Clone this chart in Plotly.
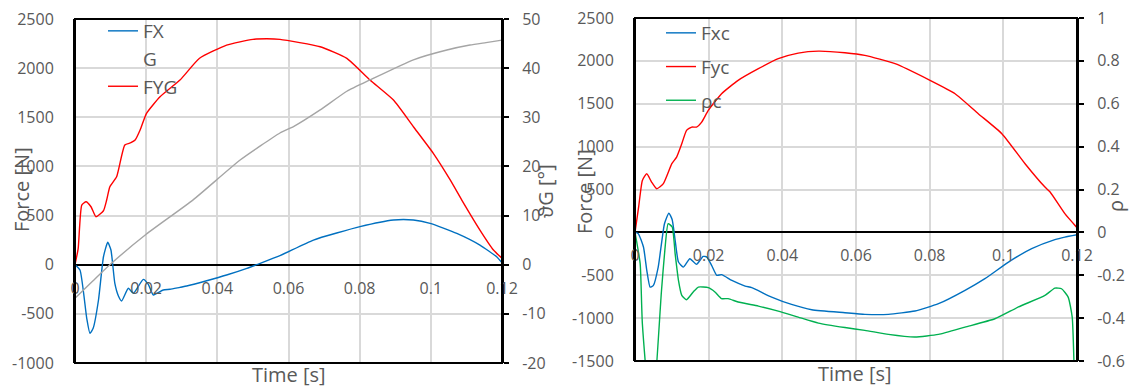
import plotly.graph_objects as go

# ---------------- data ----------------
# Left chart
t_fx = [0, 0.0014, 0.0033, 0.0042, 0.0051, 0.0066, 0.008, 0.0092, 0.0101, 0.0112, 0.0122,
        0.0131, 0.015, 0.0164, 0.0192, 0.0206, 0.022, 0.0248, 0.0267, 0.0295, 0.0314, 0.037,
        0.0426, 0.0483, 0.051, 0.0576, 0.067, 0.0801, 0.0895, 0.0951, 0.0998, 0.1073, 0.1138,
        0.1185, 0.12]
fx = [0, -54, -545, -698, -647, -359, 81, 228, 150, -190, -318,
      -369, -240, -291, -149, -200, -308, -257, -250, -230, -217, -163,
      -105, -37, 0, 92, 251, 387, 455, 455, 421, 319, 200,
      81, 20]

t_fyg = [0, 0.0009, 0.0019, 0.0031, 0.0045, 0.0059, 0.008, 0.0089, 0.0098, 0.0117, 0.014,
         0.0157, 0.0169, 0.0183, 0.0201, 0.0239, 0.0295, 0.035, 0.0426, 0.05, 0.0539, 0.0576,
         0.0689, 0.0764, 0.0829, 0.0895, 0.0951, 0.1007, 0.1054, 0.1087, 0.1138, 0.1176, 0.12]
fyg = [0, 167, 607, 641, 590, 488, 549, 658, 793, 895, 1218,
       1241, 1268, 1370, 1540, 1709, 1879, 2100, 2235, 2293, 2299, 2293,
       2218, 2100, 1879, 1675, 1404, 1133, 865, 658, 353, 150, 65]

t_g = [0, 0.005, 0.0098, 0.02, 0.0332, 0.0464, 0.0576, 0.0614, 0.0689, 0.0764, 0.0829,
       0.0951, 0.1045, 0.111, 0.1155, 0.12]
g = [-6.8, -3.3, 0, 6.2, 13.2, 21.3, 26.8, 28.1, 31.5, 35.3, 37.6,
     41.7, 43.7, 44.7, 45.2, 45.7]

# Right chart
t_fxc = [0, 0.0009, 0.0023, 0.0032, 0.0041, 0.005, 0.0063, 0.008, 0.0092, 0.0101, 0.0109,
         0.0118, 0.0131, 0.0149, 0.0167, 0.0185, 0.0195, 0.0208, 0.0222, 0.0235, 0.0263,
         0.0299, 0.0317, 0.0371, 0.0425, 0.048, 0.057, 0.0624, 0.0688, 0.076, 0.0824, 0.0896,
         0.095, 0.1014, 0.1077, 0.114, 0.1167, 0.12]
fxc = [0, -15, -171, -443, -638, -618, -405, 101, 225, 148, -93,
       -346, -405, -307, -373, -280, -288, -385, -501, -493, -560,
       -626, -645, -754, -840, -902, -937, -956, -956, -917, -832, -676,
       -540, -346, -190, -85, -55, -27]

t_fyc = [0, 0.001, 0.002, 0.0032, 0.0045, 0.0059, 0.0077, 0.01, 0.0113, 0.0127, 0.014,
         0.0154, 0.0167, 0.0181, 0.0199, 0.0235, 0.028, 0.0335, 0.0389, 0.0443, 0.0498,
         0.057, 0.0624, 0.0706, 0.0801, 0.0869, 0.0932, 0.0996, 0.1059, 0.1113, 0.1127,
         0.1167, 0.12]
fyc = [0, 300, 606, 684, 587, 509, 568, 801, 878, 1034, 1190,
       1228, 1228, 1286, 1423, 1617, 1773, 1909, 2026, 2091, 2114,
       2095, 2064, 1967, 1773, 1617, 1384, 1151, 801, 528, 470,
       218, 55]

t_rho = [0, 0.0014, 0.002, 0.0045, 0.0072, 0.0081, 0.009, 0.0101, 0.0109, 0.0118, 0.0127,
         0.014, 0.0158, 0.0172, 0.0199, 0.0217, 0.0235, 0.0253, 0.028, 0.0335, 0.0389,
         0.0443, 0.0498, 0.057, 0.0624, 0.0688, 0.076, 0.0824, 0.0896, 0.0977, 0.1041,
         0.1113, 0.114, 0.1158, 0.1176, 0.1187, 0.1192, 0.12]
rho = [0, -0.146, -0.426, -0.9, -0.27, -0.084, 0.041, 0.025, -0.1, -0.224, -0.294,
       -0.314, -0.278, -0.255, -0.258, -0.278, -0.309, -0.309, -0.325, -0.344, -0.367,
       -0.395, -0.423, -0.444, -0.457, -0.476, -0.488, -0.476, -0.442, -0.403, -0.348,
       -0.294, -0.26, -0.263, -0.302, -0.395, -0.62, -1.2]

# axis ticks
x_ticks = [0, 0.02, 0.04, 0.06, 0.08, 0.1, 0.12]
yl_ticks = [-1000, -500, 0, 500, 1000, 1500, 2000, 2500]
yl2_ticks = [-20, -10, 0, 10, 20, 30, 40, 50]
yr_ticks = [-1500, -1000, -500, 0, 500, 1000, 1500, 2000, 2500]
yr2_ticks = [-0.6, -0.4, -0.2, 0, 0.2, 0.4, 0.6, 0.8, 1]


def lab(vals):
    return [f"{v:g}" for v in vals]


BLUE = "#0070C0"
RED = "#FF0000"
GRAY = "#A5A5A5"
GREEN = "#00B050"
TXT = "#595959"
GRID = "#D9D9D9"
FONT = "Open Sans"

W, H = 1129, 387
# plot-area domains (paper fractions)
xl_dom = [75 / W, 502 / W]
yl_dom = [1 - 363 / H, 1 - 19 / H]
xr_dom = [635 / W, 1077 / W]
yr_dom = [1 - 361 / H, 1 - 18 / H]


def zero_pos(dom, lo, hi):
    return dom[0] + (0 - lo) / (hi - lo) * (dom[1] - dom[0])


fig = go.Figure()
lw = 1.4


def ln(color):
    return dict(color=color, width=lw, shape="spline", smoothing=0.5)


fig.add_trace(go.Scatter(x=t_fx, y=fx, name="FX", mode="lines", line=ln(BLUE),
                         xaxis="x", yaxis="y", legend="legend"))
fig.add_trace(go.Scatter(x=[None], y=[None], name="G", mode="lines",
                         line=dict(color="rgba(0,0,0,0)", width=lw), xaxis="x", yaxis="y", legend="legend"))
fig.add_trace(go.Scatter(x=t_fyg, y=fyg, name="FYG", mode="lines", line=ln(RED),
                         xaxis="x", yaxis="y", legend="legend"))
fig.add_trace(go.Scatter(x=t_g, y=g, name="G", mode="lines", line=ln(GRAY),
                         xaxis="x", yaxis="y2", showlegend=False))

fig.add_trace(go.Scatter(x=t_fxc, y=fxc, name="Fxc", mode="lines", line=ln(BLUE),
                         xaxis="x2", yaxis="y3", legend="legend2", legendgroup="a"))
fig.add_trace(go.Scatter(x=t_fyc, y=fyc, name="Fyc", mode="lines", line=ln(RED),
                         xaxis="x2", yaxis="y3", legend="legend2", legendgroup="b"))
fig.add_trace(go.Scatter(x=t_rho, y=rho, name="ρc", mode="lines", line=ln(GREEN),
                         xaxis="x2", yaxis="y4", legend="legend2", legendgroup="c"))

tickfont = dict(family=FONT, size=16, color=TXT)
xcommon = dict(range=[0, 0.12], tickvals=x_ticks, ticktext=lab(x_ticks), showgrid=True,
               gridcolor=GRID, gridwidth=1.5, zeroline=False, showline=False, ticks="",
               tickfont=tickfont, anchor="free", ticklabelstandoff=12)
fig.update_layout(
    width=W, height=H, margin=dict(l=0, r=0, t=0, b=0, autoexpand=False),
    paper_bgcolor="white", plot_bgcolor="white", showlegend=True,
    xaxis=dict(domain=xl_dom, position=zero_pos(yl_dom, -1000, 2500), **xcommon),
    xaxis2=dict(domain=xr_dom, position=zero_pos(yr_dom, -1500, 2500), **xcommon),
    yaxis=dict(domain=yl_dom, anchor="x", range=[-1000, 2500], tickvals=yl_ticks, ticktext=lab(yl_ticks),
               showgrid=True, gridcolor=GRID, gridwidth=1.5, zeroline=True, zerolinecolor="black",
               zerolinewidth=2, showline=True, linecolor="black", linewidth=2, ticks="",
               tickfont=tickfont, ticklabelstandoff=16),
    yaxis2=dict(overlaying="y", side="right", anchor="x", range=[-20, 50], tickvals=yl2_ticks,
                ticktext=lab(yl2_ticks), showgrid=False, zeroline=False, showline=True,
                linecolor="black", linewidth=2, ticks="outside", ticklen=5, tickwidth=1.5,
                tickcolor="black", tickfont=tickfont, ticklabelstandoff=10),
    yaxis3=dict(domain=yr_dom, anchor="x2", range=[-1500, 2500], tickvals=yr_ticks, ticktext=lab(yr_ticks),
                showgrid=True, gridcolor=GRID, gridwidth=1.5, zeroline=True, zerolinecolor="black",
                zerolinewidth=2, showline=True, linecolor="black", linewidth=2, ticks="",
                tickfont=tickfont, ticklabelstandoff=16),
    yaxis4=dict(overlaying="y3", side="right", anchor="x2", range=[-0.6, 1], tickvals=yr2_ticks,
                ticktext=lab(yr2_ticks), showgrid=False, zeroline=False, showline=True,
                linecolor="black", linewidth=2, ticks="outside", ticklen=5, tickwidth=1.5,
                tickcolor="black", tickfont=tickfont, ticklabelstandoff=10),
    legend=dict(x=103 / W, y=1 - 12 / H, xanchor="left", yanchor="top", bgcolor="rgba(0,0,0,0)",
                font=dict(family=FONT, size=19, color=TXT), tracegroupgap=0),
    legend2=dict(x=661 / W, y=1 - 14 / H, xanchor="left", yanchor="top", bgcolor="rgba(0,0,0,0)",
                 font=dict(family=FONT, size=19, color=TXT), tracegroupgap=6),
)

# plot-area frames
for xr, yr in (("x domain", "y domain"), ("x2 domain", "y3 domain")):
    fig.add_shape(type="rect", xref=xr, yref=yr, x0=0, x1=1, y0=0, y1=1,
                  line=dict(color="black", width=2), layer="above")

title_font = dict(family=FONT, size=20, color=TXT)
ann = [
    dict(text="Time [s]", x=289 / W, y=1 - 374 / H, textangle=0),
    dict(text="Time [s]", x=855 / W, y=1 - 373 / H, textangle=0),
    dict(text="Force [N]", x=21 / W, y=1 - 190 / H, textangle=-90),
    dict(text="Force [N]", x=584 / W, y=1 - 192 / H, textangle=-90),
    dict(text="ϑG [°]", x=545 / W, y=1 - 191 / H, textangle=-90),
    dict(text="ρ", x=1115 / W, y=1 - 206 / H, textangle=-90),
]
for a in ann:
    fig.add_annotation(xref="paper", yref="paper", showarrow=False, font=title_font,
                       xanchor="center", yanchor="middle", **a)

fig.write_html("out.html")
